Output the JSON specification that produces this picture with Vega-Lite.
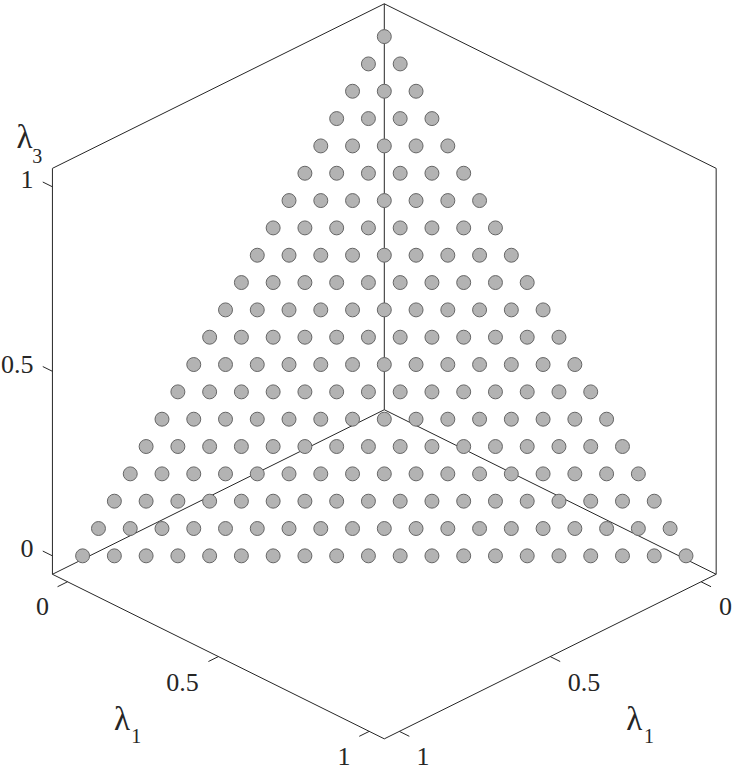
{
  "$schema": "https://vega.github.io/schema/vega-lite/v6.json",
  "width": 734,
  "height": 770,
  "autosize": {"type": "fit", "contains": "padding"},
  "padding": 0,
  "background": "white",
  "config": {"view": {"stroke": null}},
  "datasets": {
    "points": [
      {"h":-19,"r":0},{"h":-17,"r":0},{"h":-15,"r":0},{"h":-13,"r":0},{"h":-11,"r":0},{"h":-9,"r":0},{"h":-7,"r":0},{"h":-5,"r":0},{"h":-3,"r":0},{"h":-1,"r":0},{"h":1,"r":0},{"h":3,"r":0},{"h":5,"r":0},{"h":7,"r":0},{"h":9,"r":0},{"h":11,"r":0},{"h":13,"r":0},{"h":15,"r":0},{"h":17,"r":0},{"h":19,"r":0},
      {"h":-18,"r":1},{"h":-16,"r":1},{"h":-14,"r":1},{"h":-12,"r":1},{"h":-10,"r":1},{"h":-8,"r":1},{"h":-6,"r":1},{"h":-4,"r":1},{"h":-2,"r":1},{"h":0,"r":1},{"h":2,"r":1},{"h":4,"r":1},{"h":6,"r":1},{"h":8,"r":1},{"h":10,"r":1},{"h":12,"r":1},{"h":14,"r":1},{"h":16,"r":1},{"h":18,"r":1},
      {"h":-17,"r":2},{"h":-15,"r":2},{"h":-13,"r":2},{"h":-11,"r":2},{"h":-9,"r":2},{"h":-7,"r":2},{"h":-5,"r":2},{"h":-3,"r":2},{"h":-1,"r":2},{"h":1,"r":2},{"h":3,"r":2},{"h":5,"r":2},{"h":7,"r":2},{"h":9,"r":2},{"h":11,"r":2},{"h":13,"r":2},{"h":15,"r":2},{"h":17,"r":2},
      {"h":-16,"r":3},{"h":-14,"r":3},{"h":-12,"r":3},{"h":-10,"r":3},{"h":-8,"r":3},{"h":-6,"r":3},{"h":-4,"r":3},{"h":-2,"r":3},{"h":0,"r":3},{"h":2,"r":3},{"h":4,"r":3},{"h":6,"r":3},{"h":8,"r":3},{"h":10,"r":3},{"h":12,"r":3},{"h":14,"r":3},{"h":16,"r":3},
      {"h":-15,"r":4},{"h":-13,"r":4},{"h":-11,"r":4},{"h":-9,"r":4},{"h":-7,"r":4},{"h":-5,"r":4},{"h":-3,"r":4},{"h":-1,"r":4},{"h":1,"r":4},{"h":3,"r":4},{"h":5,"r":4},{"h":7,"r":4},{"h":9,"r":4},{"h":11,"r":4},{"h":13,"r":4},{"h":15,"r":4},
      {"h":-14,"r":5},{"h":-12,"r":5},{"h":-10,"r":5},{"h":-8,"r":5},{"h":-6,"r":5},{"h":-4,"r":5},{"h":-2,"r":5},{"h":0,"r":5},{"h":2,"r":5},{"h":4,"r":5},{"h":6,"r":5},{"h":8,"r":5},{"h":10,"r":5},{"h":12,"r":5},{"h":14,"r":5},
      {"h":-13,"r":6},{"h":-11,"r":6},{"h":-9,"r":6},{"h":-7,"r":6},{"h":-5,"r":6},{"h":-3,"r":6},{"h":-1,"r":6},{"h":1,"r":6},{"h":3,"r":6},{"h":5,"r":6},{"h":7,"r":6},{"h":9,"r":6},{"h":11,"r":6},{"h":13,"r":6},
      {"h":-12,"r":7},{"h":-10,"r":7},{"h":-8,"r":7},{"h":-6,"r":7},{"h":-4,"r":7},{"h":-2,"r":7},{"h":0,"r":7},{"h":2,"r":7},{"h":4,"r":7},{"h":6,"r":7},{"h":8,"r":7},{"h":10,"r":7},{"h":12,"r":7},
      {"h":-11,"r":8},{"h":-9,"r":8},{"h":-7,"r":8},{"h":-5,"r":8},{"h":-3,"r":8},{"h":-1,"r":8},{"h":1,"r":8},{"h":3,"r":8},{"h":5,"r":8},{"h":7,"r":8},{"h":9,"r":8},{"h":11,"r":8},
      {"h":-10,"r":9},{"h":-8,"r":9},{"h":-6,"r":9},{"h":-4,"r":9},{"h":-2,"r":9},{"h":0,"r":9},{"h":2,"r":9},{"h":4,"r":9},{"h":6,"r":9},{"h":8,"r":9},{"h":10,"r":9},
      {"h":-9,"r":10},{"h":-7,"r":10},{"h":-5,"r":10},{"h":-3,"r":10},{"h":-1,"r":10},{"h":1,"r":10},{"h":3,"r":10},{"h":5,"r":10},{"h":7,"r":10},{"h":9,"r":10},
      {"h":-8,"r":11},{"h":-6,"r":11},{"h":-4,"r":11},{"h":-2,"r":11},{"h":0,"r":11},{"h":2,"r":11},{"h":4,"r":11},{"h":6,"r":11},{"h":8,"r":11},
      {"h":-7,"r":12},{"h":-5,"r":12},{"h":-3,"r":12},{"h":-1,"r":12},{"h":1,"r":12},{"h":3,"r":12},{"h":5,"r":12},{"h":7,"r":12},
      {"h":-6,"r":13},{"h":-4,"r":13},{"h":-2,"r":13},{"h":0,"r":13},{"h":2,"r":13},{"h":4,"r":13},{"h":6,"r":13},
      {"h":-5,"r":14},{"h":-3,"r":14},{"h":-1,"r":14},{"h":1,"r":14},{"h":3,"r":14},{"h":5,"r":14},
      {"h":-4,"r":15},{"h":-2,"r":15},{"h":0,"r":15},{"h":2,"r":15},{"h":4,"r":15},
      {"h":-3,"r":16},{"h":-1,"r":16},{"h":1,"r":16},{"h":3,"r":16},
      {"h":-2,"r":17},{"h":0,"r":17},{"h":2,"r":17},
      {"h":-1,"r":18},{"h":1,"r":18},
      {"h":0,"r":19}
    ],
    "edges": [
      {"h":0,"r":20.2,"h2":-20.9,"r2":14.179},
      {"h":-20.9,"r":14.179,"h2":-20.9,"r2":-0.675},
      {"h":-20.9,"r":-0.675,"h2":0,"r2":-6.696},
      {"h":0,"r":-6.696,"h2":20.9,"r2":-0.675},
      {"h":20.9,"r":-0.675,"h2":20.9,"r2":14.179},
      {"h":20.9,"r":14.179,"h2":0,"r2":20.2},
      {"h":0,"r":5.346,"h2":0,"r2":20.2},
      {"h":0,"r":5.346,"h2":-20.9,"r2":-0.675},
      {"h":0,"r":5.346,"h2":20.9,"r2":-0.675},
      {"h":-20.9,"r":0,"h2":-21.508,"r2":0.175},
      {"h":-20.9,"r":6.752,"h2":-21.508,"r2":6.927},
      {"h":-20.9,"r":13.504,"h2":-21.508,"r2":13.679},
      {"h":-19.95,"r":-0.949,"h2":-20.577,"r2":-1.13},
      {"h":-10.45,"r":-3.686,"h2":-11.077,"r2":-3.867},
      {"h":-0.95,"r":-6.423,"h2":-1.577,"r2":-6.604},
      {"h":19.95,"r":-0.949,"h2":20.577,"r2":-1.13},
      {"h":10.45,"r":-3.686,"h2":11.077,"r2":-3.867},
      {"h":0.95,"r":-6.423,"h2":1.577,"r2":-6.604}
    ],
    "zlabels": [
      {"h":-22.092,"r":-0.044,"t":"0"},
      {"h":-22.092,"r":6.708,"t":"0.5"},
      {"h":-22.092,"r":13.46,"t":"1"}
    ],
    "xlabels": [
      {"h":-21.52,"r":-2.179,"t":"0"},
      {"h":-12.71,"r":-4.953,"t":"0.5"},
      {"h":-2.54,"r":-7.635,"t":"1"},
      {"h":21.49,"r":-2.179,"t":"0"},
      {"h":12.58,"r":-4.953,"t":"0.5"},
      {"h":2.44,"r":-7.635,"t":"1"}
    ],
    "names": [
      {"h":-23.163,"r":14.938,"t":"λ"},
      {"h":-17.022,"r":-6.365,"t":"λ"},
      {"h":15.24,"r":-6.365,"t":"λ"}
    ],
    "subs": [
      {"h":-22.168,"r":14.391,"t":"3"},
      {"h":-15.933,"r":-6.85,"t":"1"},
      {"h":16.355,"r":-6.85,"t":"1"}
    ]
  },
  "layer": [
    {
      "data": {"name": "edges"},
      "mark": {"type": "rule", "color": "#262626", "strokeWidth": 1},
      "encoding": {
        "x": {"field": "h", "type": "quantitative", "scale": {"domain": [-24.202, 22.023], "nice": false, "zero": false}, "axis": null},
        "y": {"field": "r", "type": "quantitative", "scale": {"domain": [-7.763, 20.339], "nice": false, "zero": false}, "axis": null},
        "x2": {"field": "h2"},
        "y2": {"field": "r2"}
      }
    },
    {
      "data": {"name": "points"},
      "mark": {"type": "circle", "size": 195, "fill": "#b3b3b3", "fillOpacity": 1, "stroke": "#666666", "strokeWidth": 1},
      "encoding": {
        "x": {"field": "h", "type": "quantitative"},
        "y": {"field": "r", "type": "quantitative"}
      }
    },
    {
      "data": {"name": "zlabels"},
      "mark": {"type": "text", "align": "right", "baseline": "alphabetic", "font": "Times New Roman, Liberation Serif, serif", "fontSize": 26, "color": "#262626"},
      "encoding": {
        "x": {"field": "h", "type": "quantitative"},
        "y": {"field": "r", "type": "quantitative"},
        "text": {"field": "t"}
      }
    },
    {
      "data": {"name": "xlabels"},
      "mark": {"type": "text", "align": "center", "baseline": "alphabetic", "font": "Times New Roman, Liberation Serif, serif", "fontSize": 26, "color": "#262626"},
      "encoding": {
        "x": {"field": "h", "type": "quantitative"},
        "y": {"field": "r", "type": "quantitative"},
        "text": {"field": "t"}
      }
    },
    {
      "data": {"name": "names"},
      "mark": {"type": "text", "align": "left", "baseline": "alphabetic", "font": "Times New Roman, Liberation Serif, serif", "fontSize": 33, "color": "#262626"},
      "encoding": {
        "x": {"field": "h", "type": "quantitative"},
        "y": {"field": "r", "type": "quantitative"},
        "text": {"field": "t"}
      }
    },
    {
      "data": {"name": "subs"},
      "mark": {"type": "text", "align": "left", "baseline": "alphabetic", "font": "Times New Roman, Liberation Serif, serif", "fontSize": 20, "color": "#262626"},
      "encoding": {
        "x": {"field": "h", "type": "quantitative"},
        "y": {"field": "r", "type": "quantitative"},
        "text": {"field": "t"}
      }
    }
  ]
}
